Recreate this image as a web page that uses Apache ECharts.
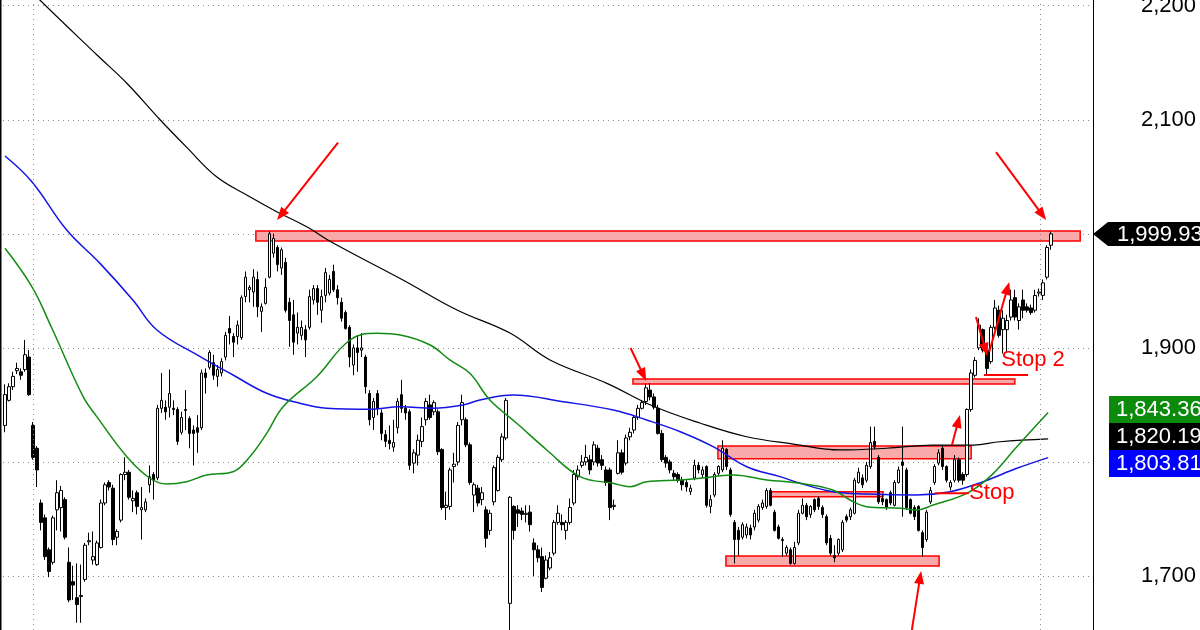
<!DOCTYPE html>
<html><head><meta charset="utf-8">
<script src="https://cdn.jsdelivr.net/npm/echarts@6/dist/echarts.min.js"></script>
<style>html,body{margin:0;padding:0;background:#fff}#c{width:1200px;height:630px}</style>
</head><body><div id="c"></div>
<script>
// ---------- data ----------
const SLOTS = 272; // bar slots on the time axis (last ones empty, chart shift)
const categories = Array.from({length: SLOTS}, (_, i) => String(i));
// [open, close, low, high]
const ohlc = [
[1832,1859,1826,1868],[1854,1866,1853,1869],[1866,1875,1863,1879],[1880,1882,1877,1887],[1879,1876,1872,1882],
[1881,1894,1879,1907],[1892,1859,1858,1898],[1832,1804,1802,1835],[1812,1793,1778,1814],[1764,1747,1740,1767],
[1751,1717,1714,1754],[1723,1704,1699,1725],[1712,1751,1710,1753],[1758,1773,1740,1784],[1760,1775,1739,1779],
[1767,1734,1732,1769],[1712,1679,1677,1725],[1695,1692,1679,1709],[1681,1675,1659,1711],[1682,1683,1659,1710],
[1697,1727,1695,1729],[1730,1731,1727,1738],[1714,1717,1710,1739],[1710,1729,1709,1731],[1725,1764,1724,1767],
[1764,1780,1762,1782],[1782,1778,1775,1784],[1777,1732,1727,1780],[1734,1739,1727,1741],[1749,1789,1747,1790],
[1789,1791,1784,1804],[1791,1769,1767,1793],[1766,1768,1756,1775],[1773,1761,1754,1775],[1758,1760,1732,1778],
[1758,1765,1756,1768],[1780,1787,1773,1797],[1789,1784,1767,1791],[1786,1847,1784,1850],[1847,1854,1843,1878],
[1848,1844,1837,1854],[1848,1860,1839,1881],[1847,1846,1841,1854],[1846,1818,1815,1848],[1826,1839,1824,1844],
[1845,1846,1828,1863],[1838,1825,1812,1840],[1828,1825,1797,1832],[1830,1826,1808,1841],[1830,1878,1828,1881],
[1878,1874,1860,1882],[1883,1896,1881,1898],[1887,1876,1872,1894],[1875,1881,1866,1885],[1878,1888,1875,1891],
[1892,1911,1889,1914],[1917,1913,1903,1928],[1910,1905,1892,1913],[1910,1920,1903,1924],[1909,1944,1907,1946],
[1945,1962,1940,1967],[1951,1953,1940,1955],[1949,1962,1936,1969],[1960,1936,1927,1967],[1932,1936,1914,1939],
[1939,1953,1938,1961],[1962,2000,1961,2002],[1983,1996,1979,2000],[1988,1973,1967,1990],[1970,1986,1964,1988],
[1975,1933,1931,1979],[1940,1924,1901,1944],[1929,1905,1894,1942],[1913,1918,1903,1931],[1911,1918,1907,1924],
[1916,1907,1892,1920],[1918,1945,1916,1951],[1942,1952,1938,1955],[1952,1940,1929,1955],[1933,1945,1922,1951],
[1946,1966,1940,1970],[1948,1960,1946,1964],[1967,1951,1949,1973],[1951,1944,1938,1955],[1940,1926,1923,1944],
[1931,1917,1916,1933],[1918,1892,1883,1920],[1885,1900,1876,1903],[1900,1896,1879,1911],[1898,1900,1892,1913],
[1892,1866,1860,1894],[1860,1837,1832,1863],[1839,1853,1828,1856],[1860,1847,1841,1863],[1843,1825,1819,1846],
[1824,1818,1813,1828],[1819,1816,1811,1832],[1813,1817,1809,1837],[1830,1853,1825,1856],[1859,1847,1843,1872],
[1847,1843,1837,1850],[1844,1797,1793,1846],[1799,1808,1790,1811],[1806,1819,1797,1824],[1818,1831,1813,1839],
[1837,1853,1832,1856],[1850,1839,1837,1859],[1844,1852,1841,1854],[1844,1809,1806,1846],[1811,1760,1758,1812],
[1760,1762,1749,1774],[1761,1793,1758,1795],[1796,1798,1782,1808],[1800,1832,1797,1835],[1837,1852,1832,1859],
[1837,1815,1813,1839],[1815,1782,1780,1817],[1771,1780,1756,1782],[1777,1764,1761,1780],[1767,1773,1762,1778],
[1758,1733,1725,1761],[1740,1755,1736,1758],[1765,1795,1762,1797],[1775,1804,1774,1806],[1802,1822,1800,1825],
[1821,1854,1819,1856],[1676,1769,1651,1770],[1761,1740,1732,1762],[1758,1755,1743,1762],[1757,1754,1749,1760],
[1754,1755,1747,1762],[1756,1745,1739,1762],[1729,1723,1700,1733],[1723,1716,1712,1727],[1717,1690,1686,1725],
[1698,1714,1697,1718],[1707,1716,1705,1721],[1720,1747,1718,1749],[1747,1755,1745,1762],[1747,1745,1740,1754],
[1740,1747,1732,1749],[1747,1760,1745,1768],[1764,1789,1762,1793],[1787,1793,1784,1797],[1797,1800,1795,1806],
[1800,1804,1797,1815],[1802,1793,1789,1806],[1800,1815,1797,1818],[1812,1799,1796,1815],[1802,1797,1793,1806],
[1793,1782,1779,1796],[1793,1760,1749,1795],[1761,1762,1758,1767],[1790,1808,1789,1819],[1808,1791,1789,1811],
[1799,1821,1797,1824],[1822,1826,1819,1830],[1828,1839,1825,1841],[1839,1847,1837,1850],[1847,1852,1846,1854],
[1853,1865,1850,1868],[1863,1857,1854,1869],[1857,1848,1846,1860],[1847,1825,1824,1850],[1825,1802,1800,1828],
[1804,1799,1795,1806],[1800,1793,1790,1802],[1790,1787,1784,1793],[1789,1784,1782,1791],[1784,1780,1775,1787],
[1782,1778,1774,1784],[1774,1777,1771,1780],[1786,1797,1784,1802],[1797,1793,1790,1800],[1789,1793,1786,1796],
[1796,1762,1760,1797],[1761,1767,1755,1771],[1771,1789,1769,1791],[1790,1796,1788,1797],[1793,1812,1791,1819],
[1811,1796,1793,1812],[1793,1754,1752,1795],[1747,1732,1711,1749],[1740,1732,1718,1743],[1734,1745,1732,1747],
[1736,1743,1733,1746],[1742,1736,1732,1745],[1743,1755,1740,1758],[1749,1761,1747,1763],[1760,1764,1758,1767],
[1761,1775,1759,1777],[1775,1762,1761,1777],[1756,1740,1739,1758],[1743,1733,1732,1745],[1731,1732,1717,1734],
[1720,1725,1718,1727],[1723,1711,1710,1725],[1711,1725,1710,1730],[1729,1755,1727,1758],[1755,1762,1754,1768],
[1762,1752,1749,1764],[1754,1761,1751,1762],[1767,1758,1756,1768],[1768,1761,1758,1770],[1760,1754,1751,1762],
[1752,1729,1727,1754],[1733,1720,1718,1736],[1718,1716,1712,1727],[1720,1732,1718,1733],[1723,1747,1721,1749],
[1752,1749,1747,1754],[1752,1758,1749,1760],[1755,1784,1754,1786],[1782,1791,1781,1795],[1786,1780,1777,1789],
[1784,1797,1782,1800],[1796,1817,1794,1831],[1818,1813,1811,1831],[1804,1765,1763,1806],[1768,1765,1762,1771],
[1767,1760,1758,1768],[1773,1764,1762,1775],[1762,1782,1761,1784],[1782,1793,1781,1796],[1800,1797,1752,1831],
[1793,1760,1758,1795],[1767,1755,1754,1768],[1760,1752,1749,1762],[1761,1740,1739,1762],[1738,1725,1717,1740],
[1732,1756,1730,1758],[1765,1775,1763,1778],[1782,1796,1780,1798],[1799,1808,1797,1811],[1812,1796,1793,1815],
[1796,1784,1782,1797],[1778,1782,1775,1784],[1784,1802,1782,1806],[1802,1784,1782,1804],[1789,1784,1780,1791],
[1789,1846,1787,1847],[1846,1878,1844,1881],[1876,1889,1874,1892],[1900,1920,1898,1926],[1916,1898,1896,1917],
[1898,1882,1876,1903],[1888,1918,1886,1920],[1918,1935,1916,1942],[1933,1911,1909,1937],[1916,1926,1895,1933],
[1916,1924,1896,1929],[1927,1942,1924,1951],[1944,1927,1924,1951],[1924,1936,1916,1939],[1942,1933,1926,1951],
[1936,1933,1931,1939],[1935,1931,1929,1938],[1933,1946,1931,1951],[1948,1949,1945,1952],[1946,1957,1942,1960],
[1962,1988,1960,1990],[1990,1999.93,1986,2002]
];
// moving averages, read as [bar, value]
const ma200 = [[0,2236],[8.7,2205],[22.9,2157],[30.4,2132],[38.7,2100],[45.3,2076],[52.8,2050],[61.1,2032.5],[67.8,2019.4],[75.3,2006.2],[81.9,1991.9],[99.3,1959.5],[112.8,1933.2],[126,1913],[136,1889.4],[150.2,1868.9],[161.7,1849],[173.4,1834.1],[185.1,1822.1],[196.7,1815.7],[208.4,1810.5],[220,1812],[231.6,1814.8],[241.6,1814.8],[248.3,1817.7],[260.3,1820.19]];
const ma100 = [[0,2068.2],[6.7,2045.7],[15.4,2003.3],[23.7,1974.1],[31.9,1942],[37.9,1915.7],[48.7,1892.3],[56.9,1876.2],[65.3,1860.2],[73.6,1851.4],[80.3,1847],[91.1,1846.1],[98.6,1848.4],[106.8,1847],[114.3,1849.9],[118.5,1854.3],[126.8,1858.7],[139.3,1852.8],[151.8,1845.5],[160.1,1836.8],[168.5,1826.5],[176.7,1813.4],[185.1,1795.8],[193.4,1787.1],[198.4,1781.3],[206.6,1773.9],[215,1771.9],[227.5,1771],[235.8,1773.9],[244.1,1782.7],[252.5,1794.4],[260.3,1803.81]];
const ma50 = [[0,1987.3],[6.7,1953.6],[11.7,1917.2],[19.5,1857.2],[22.9,1839.7],[30.4,1804.6],[36.2,1785.7],[40.4,1780.7],[45.3,1782.7],[50.3,1788.5],[56.9,1791.4],[61.1,1804.6],[65.3,1825.1],[69.4,1848.4],[77.8,1874.7],[86.1,1906.9],[92.8,1912.8],[98.6,1911.3],[106.1,1902.5],[111,1889.4],[116,1877.7],[121,1854.3],[127.7,1833.9],[135.2,1810.5],[143.5,1787.1],[151.7,1781.3],[156,1778.3],[160.1,1782.7],[168.4,1784.2],[173.4,1785.7],[181.7,1788.5],[190.1,1784.2],[198.4,1781.3],[206.6,1775.4],[210.9,1766.6],[215,1760.8],[223.4,1759.4],[227.5,1757.9],[231.6,1762.2],[240,1772.5],[245.8,1787.1],[252.5,1813.4],[260.3,1843.36]];
// zones: [fromBar, toBar, upper, lower]
const zones = [[62.6,268.3,2002.5,1993.7],[156.7,252,1872.7,1868.3],[177.9,241.1,1814,1802.8],[190.9,219.1,1773.9,1769.5],[179.9,233.1,1717.5,1708.8]];
// stop lines: [fromBar, toBar, level]
const stopLines = [[232,240.5,1772.5],[244.3,255.3,1876.2]];
// arrows: [tailBar, tailValue, tipBar, tipValue]
const arrows = [[83.1,2079.9,67.9,2012.1],[247.3,2071.7,259.8,2012.1],[156.1,1899.9,160,1871],[236.3,1814.8,238.3,1841.2],[226.3,1652.7,228.6,1704.4],[242.3,1927.1,245.1,1892.9],[245.6,1896.4,250.6,1957.8]];
// notes: [bar, value]
const noteLabels = ['Stop 2','Stop'];
const notePos = [[248.6,1889.4],[240.6,1772.8]];
const gridBars = [7, 258.3];
const lastPrice = 1999.93;
const maTagValues = [1843.36, 1820.19, 1803.81];
const maTagColors = ['#0b8a0b', '#000000', '#0000ff'];
const yTicks = {min:1600, max:2300, step:100};

// ---------- chart ----------
const FONT = '"Liberation Sans", Arial, sans-serif';
const GRID = {left:3, right:107, top:-108.36, bottom:-60.06};
const chart = echarts.init(document.getElementById('c'), null, {renderer:'canvas'});
const RED = '#ff0000';

const option = {
  animation:false,
  backgroundColor:'#ffffff',
  grid: {left:GRID.left, right:GRID.right, top:GRID.top, bottom:GRID.bottom, containLabel:false, outerBoundsMode:'none'},
  xAxis: [
    {type:'category', data:categories, boundaryGap:true, show:false},
    {type:'value', min:-0.5, max:SLOTS-0.5, show:false}
  ],
  yAxis: {
    type:'value', position:'right', min:yTicks.min, max:yTicks.max, interval:yTicks.step,
    axisLine:{show:true, onZero:false, lineStyle:{color:'#000', width:1}},
    axisTick:{show:false},
    axisLabel:{margin:48, fontSize:22, color:'#000', fontFamily:FONT, formatter:v => v.toLocaleString('en-US')},
    splitLine:{show:true, lineStyle:{color:'#8a8a8a', type:[1,4], width:1}}
  },
  series: [
    {type:'custom', xAxisIndex:1, z:1, data:zones, encode:{x:[0,1], y:[2,3]},
     renderItem:(p, api) => {
       const a = api.coord([api.value(0), api.value(2)]);
       const b = api.coord([api.value(1), api.value(3)]);
       return {type:'rect', shape:{x:a[0], y:a[1], width:b[0]-a[0], height:b[1]-a[1]},
               style:{fill:'#f8a9a9', stroke:RED, lineWidth:1.5}};
     }},
    {type:'candlestick', xAxisIndex:0, z:2, data:ohlc, barWidth:3,
     itemStyle:{color:'#ffffff', color0:'#000000', borderColor:'#000000', borderColor0:'#000000', borderWidth:1}},
    {type:'line', xAxisIndex:1, z:3, data:ma200, smooth:0.4, showSymbol:false, lineStyle:{color:'#000', width:1.2},
     markLine:{silent:true, symbol:'none', label:{show:false}, lineStyle:{color:'#8a8a8a', type:[1,4], width:1},
               data:gridBars.map(b => ({xAxis:b}))}},
    {type:'line', xAxisIndex:1, z:3, data:ma100, smooth:0.4, showSymbol:false, lineStyle:{color:'#1414e6', width:1.5}},
    {type:'line', xAxisIndex:1, z:3, data:ma50, smooth:0.4, showSymbol:false, lineStyle:{color:'#128c12', width:1.5}},
    {type:'custom', xAxisIndex:1, z:4, data:stopLines, encode:{x:[0,1], y:2},
     renderItem:(p, api) => {
       const a = api.coord([api.value(0), api.value(2)]);
       const b = api.coord([api.value(1), api.value(2)]);
       return {type:'line', shape:{x1:a[0], y1:a[1], x2:b[0], y2:b[1]}, style:{stroke:RED, lineWidth:2}};
     }},
    {type:'custom', xAxisIndex:1, z:5, data:arrows, encode:{x:[0,2], y:[1,3]},
     renderItem:(p, api) => {
       const a = api.coord([api.value(0), api.value(1)]);
       const b = api.coord([api.value(2), api.value(3)]);
       const dx = b[0]-a[0], dy = b[1]-a[1], L = Math.hypot(dx, dy);
       const ux = dx/L, uy = dy/L, px = -uy, py = ux;
       const HL = 13, HW = 5;
       const bx = b[0]-ux*HL, by = b[1]-uy*HL;
       return {type:'group', children:[
         {type:'line', shape:{x1:a[0], y1:a[1], x2:bx+ux*2, y2:by+uy*2}, style:{stroke:RED, lineWidth:2}},
         {type:'polygon', shape:{points:[[b[0],b[1]],[bx+px*HW,by+py*HW],[bx-px*HW,by-py*HW]]}, style:{fill:RED}}
       ]};
     }},
    {type:'custom', xAxisIndex:1, z:6, data:notePos, encode:{x:0, y:1},
     renderItem:(p, api) => {
       const a = api.coord([api.value(0), api.value(1)]);
       return {type:'text', x:a[0], y:a[1], style:{text:noteLabels[p.dataIndex], fill:RED, font:'22px ' + FONT,
               align:'left', verticalAlign:'middle', textAlign:'left', textVerticalAlign:'middle'}};
     }}
  ]
};
chart.setOption(option);

// price tags on the right axis
const ax = chart.getWidth() - GRID.right;
const yOf = v => chart.convertToPixel({yAxisIndex:0}, v);
const fmt = v => v.toLocaleString('en-US', {minimumFractionDigits:2, maximumFractionDigits:2});
const g = [{type:'rect', shape:{x:0, y:0, width:1.5, height:chart.getHeight()}, style:{fill:'#000'}, z:100}];
const cy = yOf(lastPrice);
g.push({type:'polygon', z:100, shape:{points:[[ax,cy],[ax+15,cy-12],[1200,cy-12],[1200,cy+12],[ax+15,cy+12]]}, style:{fill:'#000'}});
g.push({type:'text', z:101, x:ax+24, y:cy+1, style:{text:fmt(lastPrice), fill:'#fff', font:'22px ' + FONT, verticalAlign:'middle', textVerticalAlign:'middle'}});
const mid = yOf(maTagValues[1]) - 2.5;
maTagValues.forEach((v, k) => {
  const c = mid + (k-1)*27;
  g.push({type:'rect', z:100, shape:{x:ax+16, y:c-13.5, width:1200-(ax+16), height:27}, style:{fill:maTagColors[k]}});
  g.push({type:'text', z:101, x:ax+23, y:c+1, style:{text:fmt(v), fill:'#fff', font:'22px ' + FONT, verticalAlign:'middle', textVerticalAlign:'middle'}});
});
chart.setOption({graphic:g});
</script>
</body></html>
